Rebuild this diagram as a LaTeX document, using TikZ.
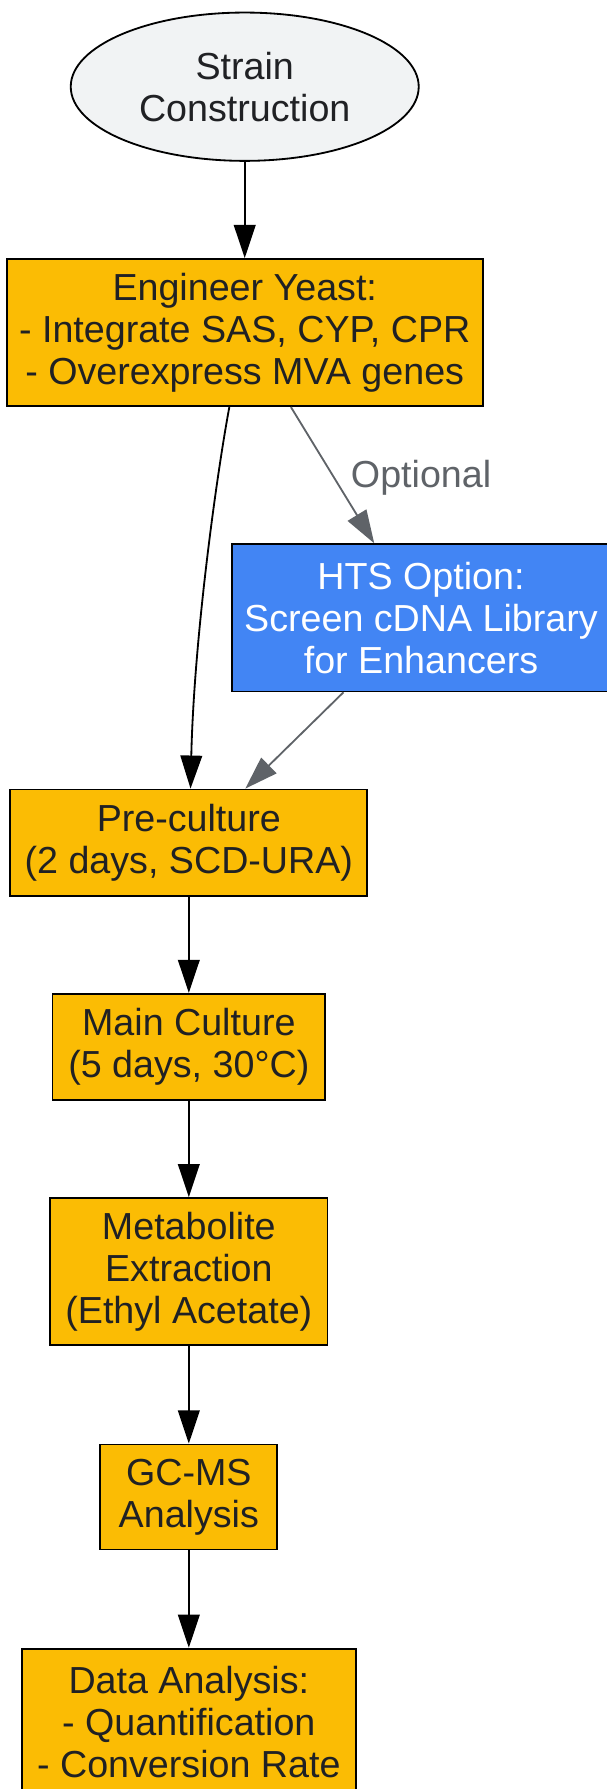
\documentclass[tikz,border=0pt]{standalone}
\usepackage{fontspec}
\setmainfont{Liberation Sans}
\usepackage{tikz}
\usetikzlibrary{calc}
\usetikzlibrary{shapes}
\usetikzlibrary{arrows.meta}
\definecolor{stepyellow}{HTML}{FBBC04}
\definecolor{htsblue}{HTML}{4285F4}
\definecolor{startgray}{HTML}{F1F3F4}
\definecolor{edgegray}{HTML}{5F6368}
\definecolor{inkdark}{HTML}{202124}
\tikzset{
  stepbox/.style={draw=black, line width=1.6pt, fill=stepyellow, text=inkdark, inner sep=0pt, align=center, font=\fontsize{33}{37}\selectfont},
  htsbox/.style={stepbox, fill=htsblue, text=white},
  startnode/.style={ellipse, draw=black, line width=1.6pt, fill=startgray, text=inkdark, inner sep=0pt, align=center, font=\fontsize{33}{37}\selectfont},
  flow/.style={line width=1.6pt, -{Triangle[length=29pt, width=19pt]}},
  optflow/.style={flow, draw=edgegray, fill=edgegray}
}

\begin{document}
\begin{tikzpicture}[x=1pt, y=-1pt]
        \useasboundingbox (0,0) rectangle (532,1568);
        % start
        \node[startnode, minimum width=305pt, minimum height=130pt] (strain) at (214.5,76) {Strain\\Construction};
        % strain engineering
        \node[stepbox, minimum width=417pt, minimum height=129pt] (eng) at (214.5,291.5) {Engineer Yeast:\\- Integrate SAS, CYP, CPR\\- Overexpress MVA genes};
        \node[htsbox, minimum width=332pt, minimum height=129pt] (hts) at (369,541.5) {HTS Option:\\Screen cDNA Library\\for Enhancers};
        % cultivation
        \node[stepbox, minimum width=313pt, minimum height=93pt] (pre) at (165.5,738.5) {Pre-culture\\(2 days, SCD-URA)};
        \node[stepbox, minimum width=239pt, minimum height=93pt] (main) at (165.5,917.5) {Main Culture\\(5 days, 30°C)};
        % analysis
        \node[stepbox, minimum width=243pt, minimum height=129pt] (extract) at (165.5,1114.5) {Metabolite\\Extraction\\(Ethyl Acetate)};
        \node[stepbox, minimum width=155pt, minimum height=92pt] (gcms) at (165.5,1312) {GC-MS\\Analysis};
        \node[stepbox, minimum width=293pt, minimum height=129pt] (data) at (165.5,1509.5) {Data Analysis:\\- Quantification\\- Conversion Rate};
        % edges
        \draw[flow] (strain) -- (eng);
        \draw[flow] ([xshift=-13.5pt]eng.south) .. controls +(-11,59) and +(3,-132) .. ([xshift=1.5pt]pre.north);
        \draw[optflow] ([xshift=40.5pt]eng.south) -- node[right, text=edgegray, font=\fontsize{33}{37}\selectfont, xshift=12pt, yshift=-2pt] {Optional} ([xshift=-41pt]hts.north);
        \draw[optflow] ([xshift=-68pt]hts.south) -- ([xshift=49.5pt]pre.north);
        \draw[flow] (pre) -- (main);
        \draw[flow] (main) -- (extract);
        \draw[flow] (extract) -- (gcms);
        \draw[flow] (gcms) -- (data);
    \end{tikzpicture}
\end{document}
